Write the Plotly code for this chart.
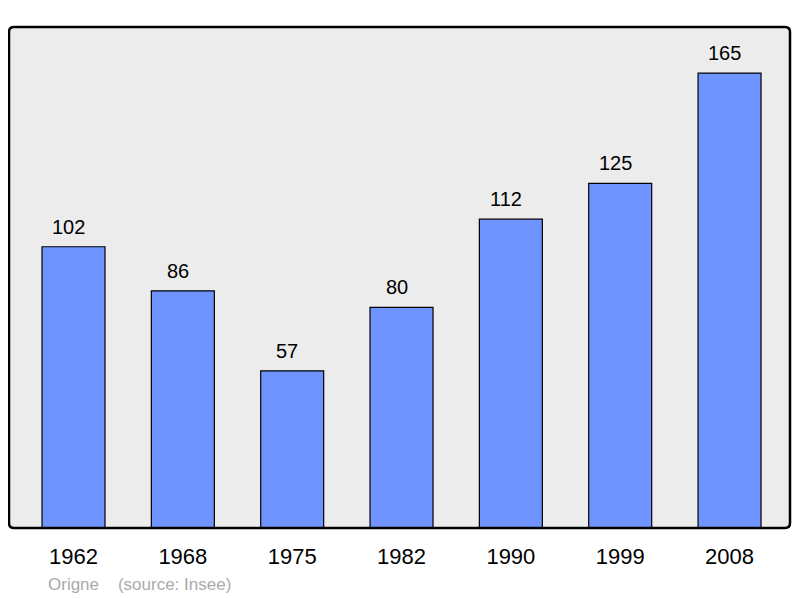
import plotly.graph_objects as go

years = ["1962", "1968", "1975", "1982", "1990", "1999", "2008"]
population = [102, 86, 57, 80, 112, 125, 165]
footer = "Origne    (source: Insee)"

fig = go.Figure()
fig.add_trace(go.Bar(
    x=list(range(len(years))), y=population, width=0.576,
    marker=dict(color="#7094ff", line=dict(color="#000000", width=1.2)),
    hoverinfo="skip",
))

for i, v in enumerate(population):
    fig.add_annotation(x=i, y=v, text=str(v), showarrow=False, yanchor="bottom",
                       yshift=7, xshift=-5,
                       font=dict(family="Liberation Sans, Arial", size=20, color="#000"))

fig.add_annotation(xref="paper", yref="paper", x=(46 - 9) / 781, y=0, yshift=-56,
                   xanchor="left", yanchor="middle", text=footer, showarrow=False,
                   font=dict(family="Liberation Sans, Arial", size=17, color="#aaaaaa"))

# rounded frame in paper coordinates
rx, ry = 5 / 781, 5 / 501
path = (f"M {rx},0 L {1-rx},0 Q 1,0 1,{ry} L 1,{1-ry} Q 1,1 {1-rx},1 "
        f"L {rx},1 Q 0,1 0,{1-ry} L 0,{ry} Q 0,0 {rx},0 Z")
fig.add_shape(type="path", xref="paper", yref="paper", path=path,
              fillcolor="#ececec", line=dict(width=0), layer="below")
fig.add_shape(type="path", xref="paper", yref="paper", path=path,
              line=dict(color="#000000", width=2.5), layer="above")

fig.update_layout(
    width=792, height=590,
    margin=dict(l=1, r=10, t=19, b=70),
    paper_bgcolor="#ffffff", plot_bgcolor="rgba(0,0,0,0)",
    showlegend=False,
    xaxis=dict(range=[-0.59, 6.553], tickvals=list(range(len(years))), ticktext=years,
               showgrid=False, zeroline=False, ticks="", ticklabelstandoff=13,
               tickfont=dict(family="Liberation Sans, Arial", size=22, color="#000")),
    yaxis=dict(range=[0, 181.7], showgrid=False, zeroline=False, showticklabels=False, ticks=""),
)

fig.write_html("out.html")
